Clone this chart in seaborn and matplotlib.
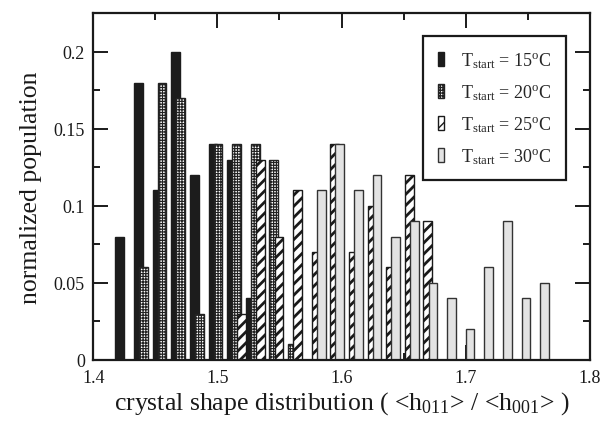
import numpy as np
import pandas as pd
import matplotlib
matplotlib.use("Agg")
import matplotlib.pyplot as plt
from matplotlib.ticker import MultipleLocator, FuncFormatter
import seaborn as sns

sns.set_style("ticks")
plt.rcParams["font.family"] = ["Liberation Serif", "DejaVu Serif"]
plt.rcParams["mathtext.fontset"] = "custom"
plt.rcParams["mathtext.rm"] = "Liberation Serif"
plt.rcParams["mathtext.it"] = "Liberation Serif:italic"

# histogram bin centres (<h011>/<h001>)
bin_centers = [1.4275, 1.4425, 1.4575, 1.4725, 1.4875, 1.5025, 1.5175, 1.5325,
               1.5475, 1.5625, 1.5775, 1.5925, 1.6075, 1.6225, 1.6375, 1.6525,
               1.6675, 1.6825, 1.6975, 1.7125, 1.7275, 1.7425, 1.7575]

# normalized population per bin for each starting temperature
pop_15 = [0.08, 0.18, 0.11, 0.20, 0.12, 0.14, 0.13, 0.04, 0, 0, 0, 0,
          0, 0, 0, 0, 0, 0, 0, 0, 0, 0, 0]
pop_20 = [0, 0.06, 0.18, 0.17, 0.03, 0.14, 0.14, 0.14, 0.13, 0.01, 0, 0,
          0, 0, 0, 0, 0, 0, 0, 0, 0, 0, 0]
pop_25 = [0, 0, 0, 0, 0, 0, 0.03, 0.13, 0.08, 0.11, 0.07, 0.14,
          0.07, 0.10, 0.06, 0.12, 0.09, 0, 0, 0, 0, 0, 0]
pop_30 = [0, 0, 0, 0, 0, 0, 0, 0, 0, 0, 0.11, 0.14,
          0.11, 0.12, 0.08, 0.09, 0.05, 0.04, 0.02, 0.06, 0.09, 0.04, 0.05]

series_labels = [r"T$_{\rm start}$ = 15$^{\rm o}$C",
                 r"T$_{\rm start}$ = 20$^{\rm o}$C",
                 r"T$_{\rm start}$ = 25$^{\rm o}$C",
                 r"T$_{\rm start}$ = 30$^{\rm o}$C"]

df = pd.concat([
    pd.DataFrame({"x": bin_centers, "pop": p, "series": i})
    for i, p in enumerate([pop_15, pop_20, pop_25, pop_30])
])
df = df[df["pop"] > 0]

# bar styles: face, edge, hatch, hatch linewidth
styles = [
    dict(color="#1c1c1c", edgecolor="#1c1c1c", hatch=None, hlw=1.0),
    dict(color="white", edgecolor="#222222", hatch="++++++", hlw=0.85),
    dict(color="white", edgecolor="#1a1a1a", hatch="///", hlw=2.0),
    dict(color="#e3e3e3", edgecolor="#333333", hatch=None, hlw=1.0),
]
shift = 0.0041

fig, ax = plt.subplots(figsize=(6.03, 4.27), dpi=100)
fig.subplots_adjust(left=0.1547, right=0.978, bottom=0.1553, top=0.9665)

for i, st in enumerate(styles):
    sub = df[df["series"] == i]
    plt.rcParams["hatch.linewidth"] = st["hlw"]
    n0 = len(ax.patches)
    sns.barplot(x=sub["x"] + (i - 1.5) * shift, y=sub["pop"], native_scale=True,
                orient="x", width=0.467, errorbar=None, saturation=1,
                color=st["color"], edgecolor=st["edgecolor"], hatch=st["hatch"],
                linewidth=1.0, ax=ax)
    for p in ax.patches[n0:]:
        try:
            p.set_hatch_linewidth(st["hlw"])
        except AttributeError:
            pass

ax.set_xlim(1.4, 1.8)
ax.set_ylim(0, 0.225)
ax.xaxis.set_major_locator(MultipleLocator(0.1))
ax.xaxis.set_minor_locator(MultipleLocator(0.05))
ax.yaxis.set_major_locator(MultipleLocator(0.05))
ax.yaxis.set_minor_locator(MultipleLocator(0.025))
ax.xaxis.set_major_formatter(FuncFormatter(lambda v, _: f"{v:g}"))
ax.yaxis.set_major_formatter(FuncFormatter(lambda v, _: f"{v:g}"))
ax.tick_params(which="both", direction="in", top=True, right=True, width=1.4,
               colors="#1a1a1a", labelcolor="#1a1a1a", labelsize=13)
ax.tick_params(which="major", length=10.5)
ax.tick_params(which="minor", length=5)
ax.tick_params(axis="x", pad=7)
ax.tick_params(axis="y", pad=6)
for s in ax.spines.values():
    s.set_linewidth(1.6)
    s.set_color("#1a1a1a")

ax.set_xlabel(r"crystal shape distribution ( <h$_{011}$> / <h$_{001}$> )",
              fontsize=18.5, color="#1a1a1a", labelpad=2)
ax.set_ylabel("normalized population", fontsize=18.5, color="#1a1a1a", labelpad=8)

handles = [c.patches[0] for c in ax.containers]
leg = ax.legend(handles, series_labels, loc="upper right",
                bbox_to_anchor=(0.952, 0.935), borderaxespad=0, fontsize=13,
                handlelength=0.35, handleheight=0.8, handletextpad=0.95,
                labelspacing=0.68, borderpad=0.8, fancybox=False, framealpha=1)
leg.get_frame().set_edgecolor("#1a1a1a")
leg.get_frame().set_linewidth(1.6)

fig.savefig("out.png", dpi=100)
